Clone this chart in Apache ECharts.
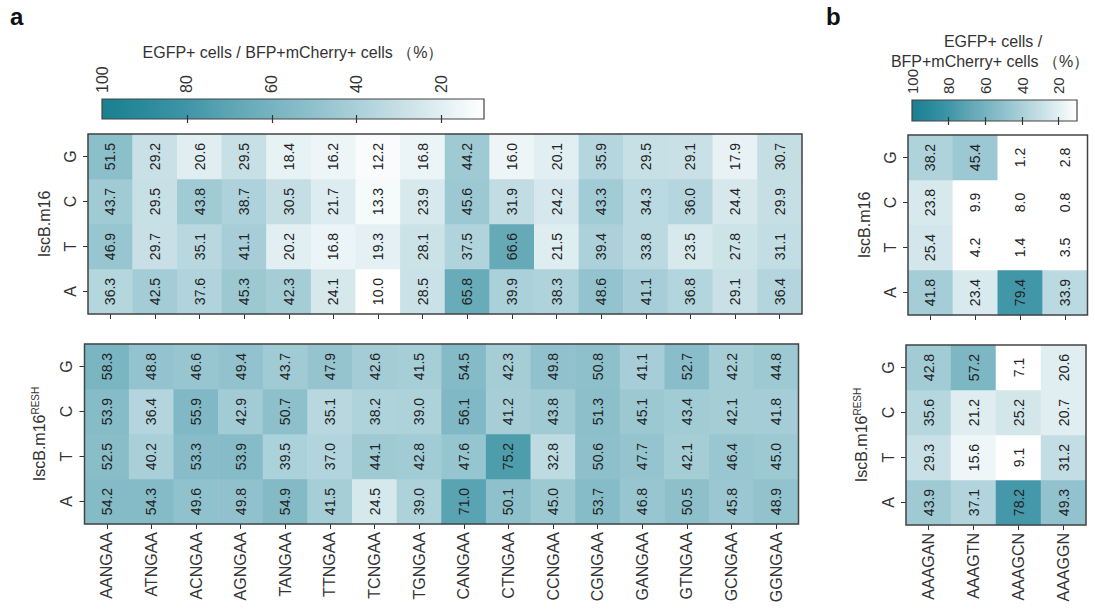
<!DOCTYPE html>
<html>
<head>
<meta charset="utf-8">
<script src="https://cdn.jsdelivr.net/npm/echarts@6/dist/echarts.min.js"></script>
<style>html,body{margin:0;padding:0;background:#fff}#c{width:1095px;height:611px}</style>
</head>
<body>
<div id="c"></div>
<script>
// ---------- data ----------
const rowsNT = ['A', 'T', 'C', 'G']; // bottom -> top
const colsA = ['AANGAA','ATNGAA','ACNGAA','AGNGAA','TANGAA','TTNGAA','TCNGAA','TGNGAA','CANGAA','CTNGAA','CCNGAA','CGNGAA','GANGAA','GTNGAA','GCNGAA','GGNGAA'];
const colsB = ['AAAGAN','AAAGTN','AAAGCN','AAAGGN'];

// panel a, IscB.m16
const aTopG = [51.5,29.2,20.6,29.5,18.4,16.2,12.2,16.8,44.2,16.0,20.1,35.9,29.5,29.1,17.9,30.7];
const aTopC = [43.7,29.5,43.8,38.7,30.5,21.7,13.3,23.9,45.6,31.9,24.2,43.3,34.3,36.0,24.4,29.9];
const aTopT = [46.9,29.7,35.1,41.1,20.2,16.8,19.3,28.1,37.5,66.6,21.5,39.4,33.8,23.5,27.8,31.1];
const aTopA = [36.3,42.5,37.6,45.3,42.3,24.1,10.0,28.5,65.8,39.9,38.3,48.6,41.1,36.8,29.1,36.4];
// panel a, IscB.m16 RESH
const aBotG = [58.3,48.8,46.6,49.4,43.7,47.9,42.6,41.5,54.5,42.3,49.8,50.8,41.1,52.7,42.2,44.8];
const aBotC = [53.9,36.4,55.9,42.9,50.7,35.1,38.2,39.0,56.1,41.2,43.8,51.3,45.1,43.4,42.1,41.8];
const aBotT = [52.5,40.2,53.3,53.9,39.5,37.0,44.1,42.8,47.6,75.2,32.8,50.6,47.7,42.1,46.4,45.0];
const aBotA = [54.2,54.3,49.6,49.8,54.9,41.5,24.5,39.0,71.0,50.1,45.0,53.7,46.8,50.5,45.8,48.9];
// panel b, IscB.m16
const bTopG = [38.2,45.4,1.2,2.8];
const bTopC = [23.8,9.9,8.0,0.8];
const bTopT = [25.4,4.2,1.4,3.5];
const bTopA = [41.8,23.4,79.4,33.9];
// panel b, IscB.m16 RESH
const bBotG = [42.8,57.2,7.1,20.6];
const bBotC = [35.6,21.2,25.2,20.7];
const bBotT = [29.3,15.6,9.1,31.2];
const bBotA = [43.9,37.1,78.2,49.3];

// colour scale (0,10,...,100)
const scaleStops = [0,10,20,30,40,50,60,70,80,90,100];
const scaleColors = ['#ffffff','#ffffff','#e2eff2','#c6dfe5','#aad0d9','#8fc1cc','#76b3c0','#5da5b4','#3f95a7','#2a8a9c','#1a7f90'];
const cbTicks = [20,40,60,80,100];

// ---------- build ----------
const FONT = "'Liberation Sans', Arial, Helvetica, sans-serif";
function toCells(rowsByName) {
  const out = [];
  rowsNT.forEach((r, yi) => {
    rowsByName[r].forEach((v, xi) => out.push([xi, yi, v]));
  });
  return out;
}
const dataATop = toCells({A:aTopA,T:aTopT,C:aTopC,G:aTopG});
const dataABot = toCells({A:aBotA,T:aBotT,C:aBotC,G:aBotG});
const dataBTop = toCells({A:bTopA,T:bTopT,C:bTopC,G:bTopG});
const dataBBot = toCells({A:bBotA,T:bBotT,C:bBotC,G:bBotG});

// gradient for the colour bars (left = 100, right = 10)
const gradStops = [];
for (let i = scaleStops.length - 1; i >= 1; i--) {
  gradStops.push({offset: (100 - scaleStops[i]) / 90, color: scaleColors[i]});
}
const cbGradient = new echarts.graphic.LinearGradient(0, 0, 1, 0, gradStops);

const heatGrid = (l, t, w, h) => ({left:l, top:t, width:w, height:h, show:true, borderColor:'#444', borderWidth:1.5, backgroundColor:'transparent', z:10});
const catX = (cats, gi, showLabels) => ({
  type:'category', data:cats, gridIndex:gi, position:'bottom',
  axisLine:{show:false},
  axisTick:{show:true, alignWithLabel:true, length:5, lineStyle:{color:'#333', width:1}},
  axisLabel:{show:showLabels, rotate:90, fontSize:16, color:'#333', fontFamily:FONT, margin:8},
  splitLine:{show:false}
});
const catY = (gi, name) => ({
  type:'category', data:rowsNT, gridIndex:gi,
  name:name, nameLocation:'middle', nameGap:36, nameRotate:90,
  nameTextStyle:{fontSize:16, color:'#333', fontFamily:FONT,
    rich:{m:{fontSize:16, color:'#333', fontFamily:FONT, lineHeight:18}, s:{fontSize:10, color:'#333', fontFamily:FONT, verticalAlign:'top', lineHeight:18}}},
  axisLine:{show:false},
  axisTick:{show:true, alignWithLabel:true, length:5, lineStyle:{color:'#333', width:1}},
  axisLabel:{rotate:90, fontSize:16, color:'#333', fontFamily:FONT, margin:10},
  splitLine:{show:false}
});
const cbX = (gi, pos, labels, fs) => ({
  type:'value', gridIndex:gi, position:pos, min:10, max:100, inverse:true,
  axisLine:{show:false},
  axisTick:{show:true, inside:true, length:4, customValues:cbTicks.slice(0,4), lineStyle:{color:'#333', width:1.2}},
  axisLabel:{show:labels, customValues:cbTicks, rotate:90, fontSize:fs, color:'#333', fontFamily:FONT, margin:6},
  splitLine:{show:false}
});
const heatSeries = (xi, data) => ({
  type:'heatmap', xAxisIndex:xi, yAxisIndex:xi, data:data,
  label:{show:true, rotate:90, fontSize:14, color:'#222', fontFamily:FONT,
    formatter:(p) => p.value[2].toFixed(1)},
  itemStyle:{borderWidth:0},
  emphasis:{disabled:true}
});

const option = {
  animation:false,
  backgroundColor:'#ffffff',
  textStyle:{fontFamily:FONT},
  visualMap:{type:'continuous', show:false, min:0, max:100, dimension:2, seriesIndex:[0,1,2,3],
    inRange:{color:scaleColors}},
  grid:[
    heatGrid(88, 134, 714, 180),
    heatGrid(84.5, 344, 714, 180),
    heatGrid(908, 135, 179.5, 180),
    heatGrid(906, 345, 180, 180),
    {left:102, top:99, width:382, height:20, show:true, backgroundColor:cbGradient, borderColor:'#444', borderWidth:1.2},
    {left:912, top:100, width:165, height:21, show:true, backgroundColor:cbGradient, borderColor:'#444', borderWidth:1.2}
  ],
  xAxis:[
    catX(colsA, 0, false),
    catX(colsA, 1, true),
    catX(colsB, 2, false),
    catX(colsB, 3, true),
    cbX(4, 'top', true, 16),
    cbX(4, 'bottom', false, 16),
    cbX(5, 'top', true, 15),
    cbX(5, 'bottom', false, 15)
  ],
  yAxis:[
    catY(0, 'IscB.m16'),
    catY(1, '{m|IscB.m16}{s|RESH}'),
    catY(2, 'IscB.m16'),
    catY(3, '{m|IscB.m16}{s|RESH}'),
    {type:'value', gridIndex:4, show:false},
    {type:'value', gridIndex:5, show:false}
  ],
  series:[
    heatSeries(0, dataATop),
    heatSeries(1, dataABot),
    heatSeries(2, dataBTop),
    heatSeries(3, dataBBot)
  ],
  graphic:[
    {type:'text', x:10, y:4, style:{text:'a', font:'bold 24px ' + FONT, fill:'#111'}},
    {type:'text', x:826, y:4, style:{text:'b', font:'bold 24px ' + FONT, fill:'#111'}},
    {type:'text', x:293, y:52, style:{text:'EGFP+ cells / BFP+mCherry+ cells （%）', font:'16px ' + FONT, fill:'#333', align:'center', verticalAlign:'middle'}},
    {type:'text', x:993, y:41, style:{text:'EGFP+ cells /', font:'16px ' + FONT, fill:'#333', align:'center', verticalAlign:'middle'}},
    {type:'text', x:990, y:61, style:{text:'BFP+mCherry+ cells （%）', font:'16px ' + FONT, fill:'#333', align:'center', verticalAlign:'middle'}}
  ]
};

const chart = echarts.init(document.getElementById('c'), null, {renderer:'svg', width:1095, height:611});
chart.setOption(option);
</script>
</body>
</html>
